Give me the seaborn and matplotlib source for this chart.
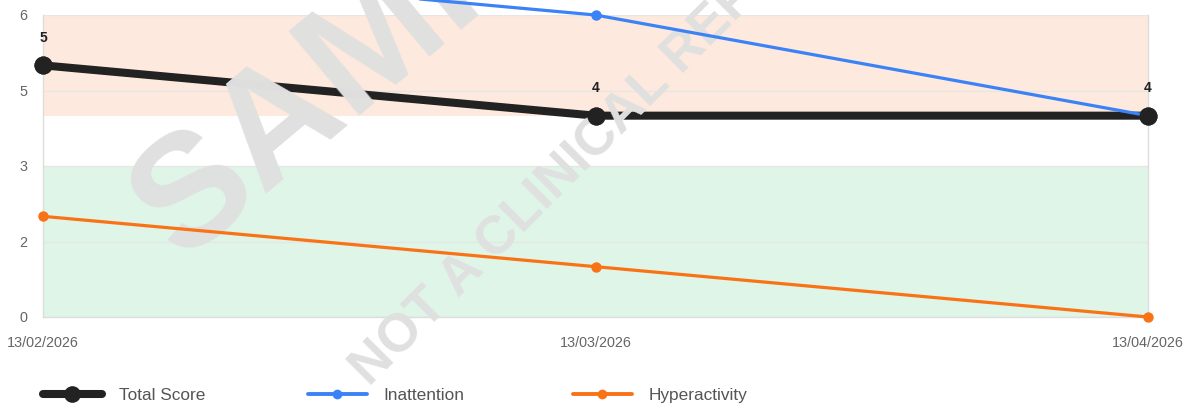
import numpy as np
import pandas as pd
import matplotlib
matplotlib.use("Agg")
import matplotlib.pyplot as plt
import seaborn as sns
from matplotlib.lines import Line2D

# ---- data ----
dates = ["13/02/2026", "13/03/2026", "13/04/2026"]
total_score = [5, 4, 4]
inattention = [7, 6, 4]
hyperactivity = [2, 1, 0]
series_names = ["Total Score", "Inattention", "Hyperactivity"]
y_ticks = [0, 1.5, 3, 4.5, 6]
band_high = (4, 6)
band_low = (0, 3)

# ---- style ----
sns.set_theme(style="white")
plt.rcParams["font.family"] = ["Liberation Sans", "DejaVu Sans"]

W, H = 1184, 405
fig = plt.figure(figsize=(W / 100, H / 100), dpi=100)
left, right, top, bottom = 43, 1148, 15, 317
ax = fig.add_axes([left / W, 1 - bottom / H, (right - left) / W, (bottom - top) / H])

x_idx = np.arange(len(dates))
df = pd.DataFrame({"idx": x_idx, "date": dates,
                   series_names[0]: total_score,
                   series_names[1]: inattention,
                   series_names[2]: hyperactivity})

ax.axhspan(*band_high, color="#fde9dd", lw=0, zorder=0.2)
ax.axhspan(*band_low, color="#def5e7", lw=0, zorder=0.2)
ax.set_axisbelow(True)
ax.yaxis.grid(True, color="#e6e6e6", lw=1)
ax.xaxis.grid(False)

c_total, c_inat, c_hyp = "#222222", "#3b82f6", "#f97316"

sns.lineplot(data=df, x="idx", y=series_names[0], ax=ax, color=c_total,
             linewidth=5.8, marker="o", markersize=13, markeredgewidth=0,
             zorder=3, clip_on=False)
sns.lineplot(data=df, x="idx", y=series_names[1], ax=ax, color=c_inat,
             linewidth=2.3, marker="o", markersize=7.5, markeredgewidth=0,
             zorder=5, clip_on=False)
sns.lineplot(data=df, x="idx", y=series_names[2], ax=ax, color=c_hyp,
             linewidth=2.3, marker="o", markersize=7.5, markeredgewidth=0,
             zorder=5, clip_on=False)
# total-score points drawn on top of the other series
sns.scatterplot(data=df, x="idx", y=series_names[0], ax=ax, color=c_total,
                s=169, linewidth=0, zorder=6, clip_on=False, legend=False)

for xi, v in zip(x_idx, total_score):
    ax.annotate(str(v), (xi, v), xytext=(0, 20), textcoords="offset points",
                ha="center", va="center", fontsize=10, fontweight="bold",
                color="#222222", annotation_clip=False, zorder=6)

ax.set_xlim(0, len(dates) - 1)
ax.set_ylim(0, 6)
ax.set_xticks(x_idx)
ax.set_xticklabels(dates)
ax.set_yticks(y_ticks)
ax.set_yticklabels([str(int(np.floor(v + 0.5))) for v in y_ticks])
ax.set_xlabel("")
ax.set_ylabel("")
ax.tick_params(axis="both", length=0, labelsize=10.4, labelcolor="#666666")
ax.tick_params(axis="x", pad=14)
ax.tick_params(axis="y", pad=11)
for s in ax.spines.values():
    s.set_color("#dddddd")
    s.set_linewidth(1)
ax.spines["top"].set_visible(False)

# ---- watermark ----
ax.text(154 / W, 1 - 230 / H, "SAMPLE", transform=fig.transFigure,
        rotation=40, rotation_mode="anchor", ha="left", va="center",
        fontsize=115, fontweight="bold", color="#e0e0e0", zorder=4, clip_on=False)
ax.text(360 / W, 1 - 378 / H, "NOT A CLINICAL REPORT", transform=fig.transFigure,
        rotation=45, rotation_mode="anchor", ha="left", va="center",
        fontsize=38.5, fontweight="bold", color="#e0e0e0", zorder=4, clip_on=False)

# ---- legend ----
handles = [
    Line2D([], [], color=c_total, lw=5.8, marker="o", markersize=12, markeredgewidth=0),
    Line2D([], [], color=c_inat, lw=2.8, marker="o", markersize=7, markeredgewidth=0),
    Line2D([], [], color=c_hyp, lw=2.8, marker="o", markersize=7, markeredgewidth=0),
]
leg_x = [43, 308, 573]
for h, name, lx in zip(handles, series_names, leg_x):
    lg = fig.legend(handles=[h], labels=[name], loc="center left",
                    bbox_to_anchor=(lx / W, 1 - 395 / H), frameon=False,
                    borderpad=0, borderaxespad=0, handlelength=3.4,
                    handletextpad=1.0, fontsize=12.4, numpoints=1)
    for t in lg.get_texts():
        t.set_color("#555555")

fig.savefig("out.png", dpi=100)
